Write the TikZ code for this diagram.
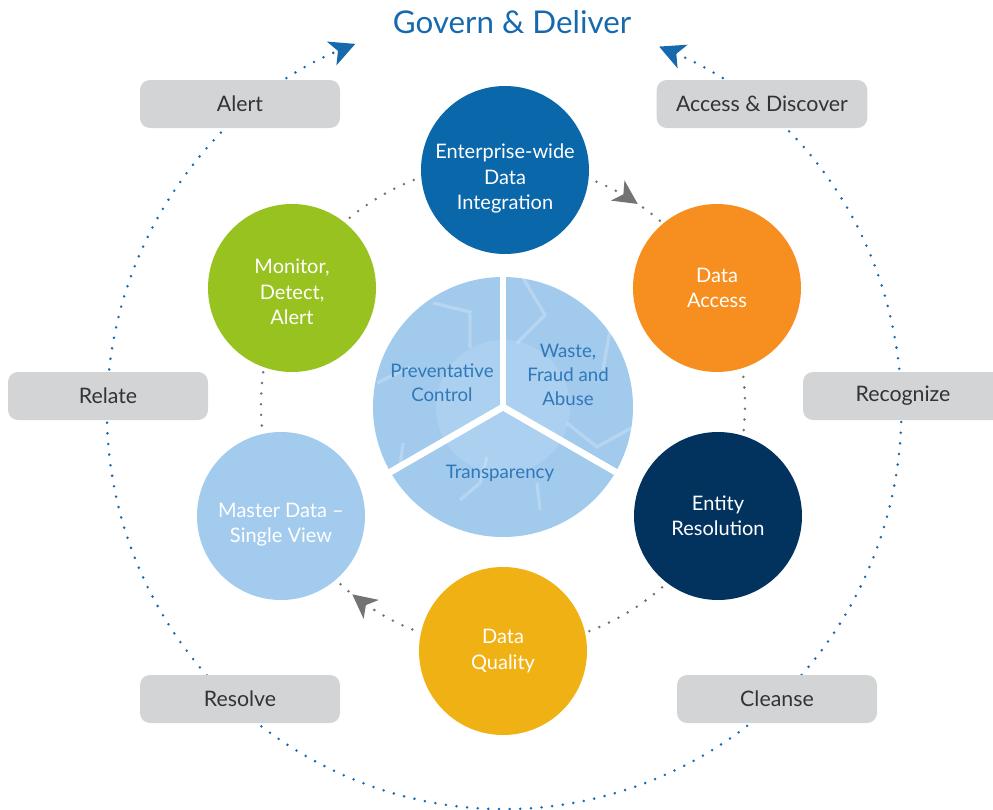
\documentclass[tikz,border=0pt]{standalone}
\usepackage{fontspec}
\setmainfont{Lato}
\usetikzlibrary{arrows.meta,decorations.markings}
\definecolor{govblue}{HTML}{1769AE}
\definecolor{dotgray}{HTML}{737373}
\definecolor{boxgray}{HTML}{D3D4D6}
\definecolor{boxtext}{HTML}{333333}
\definecolor{integrationblue}{HTML}{0A67AA}
\definecolor{accessorange}{HTML}{F68F1F}
\definecolor{resolutionnavy}{HTML}{02335F}
\definecolor{qualityyellow}{HTML}{F0B114}
\definecolor{masterblue}{HTML}{A3CBED}
\definecolor{monitorgreen}{HTML}{98C21F}
\definecolor{pieblue}{HTML}{A2CAEC}
\definecolor{pielight}{HTML}{ACD0EF}
\definecolor{pietext}{HTML}{2F78BA}
\tikzset{
  bluedots/.style={govblue, line width=2.1pt, line cap=round, dash pattern=on 0pt off 8pt},
  graydots/.style={dotgray, line width=2.1pt, line cap=round, dash pattern=on 0pt off 8pt},
  stagebox/.style={fill=boxgray, rounded corners=7.5pt, minimum width=150pt, minimum height=36pt,
    text=boxtext, font=\fontsize{16}{18}\selectfont},
  hub/.style={circle, inner sep=0pt, minimum size=126pt, text=white, align=center,
    font=\fontsize{15}{19}\selectfont},
  pielabel/.style={text=pietext, align=center, font=\fontsize{14}{18}\selectfont},
  bigtip/.style={Stealth[length=19pt,width=19pt,inset=5pt]},
}
\begin{document}
\begin{tikzpicture}[x=0.75pt,y=0.75pt]
\useasboundingbox (0,0) rectangle (993,-810);
%Outer ring
\coordinate (ring) at (504,-412);
\draw[bluedots, {Stealth[length=19pt,width=19pt,inset=5pt]}-{Stealth[length=19pt,width=19pt,inset=5pt]}]
  (ring) ++(67:397) arc[start angle=67, end angle=-248, radius=397];
% Text Node
\node[text=govblue, font=\fontsize{23.5}{26}\selectfont] (title) at (512,-22) {Govern \& Deliver};
%Stage boxes
\node[stagebox] (alert) at (240,-104) {Alert};
\node[stagebox, minimum width=158pt] (discover) at (762,-104) {Access \& Discover};
\node[stagebox] (relate) at (108,-396) {Relate};
\node[stagebox] (recognize) at (903,-396) {Recognize};
\node[stagebox] (resolve) at (240,-699) {Resolve};
\node[stagebox] (cleanse) at (777,-699) {Cleanse};
%Inner ring
\coordinate (hubring) at (503,-405);
\draw[graydots, postaction={decorate}, decoration={markings,
    mark=at position 0.094 with {\arrow{Stealth[length=18pt,width=18pt,inset=5pt]}},
    mark=at position 0.607 with {\arrow{Stealth[length=18pt,width=18pt,inset=5pt]}}}]
  (hubring) ++(90:242) arc[start angle=90, end angle=-270, radius=242];
%Shape: Circles
\node[hub, fill=integrationblue] (integration) at (505,-170) {\rule{0pt}{24pt}Enterprise-wide\\Data\\Integration};
\node[hub, fill=accessorange] (access) at (717,-288) {Data\\Access};
\node[hub, fill=resolutionnavy] (resolution) at (718,-516) {Entity\\Resolution};
\node[hub, fill=qualityyellow] (quality) at (503,-651) {Data\\Quality};
\node[hub, fill=masterblue] (master) at (281,-516) {\rule{0pt}{24pt}Master Data --\\Single View};
\node[hub, fill=monitorgreen] (monitor) at (292,-288) {\rule{0pt}{17pt}Monitor,\\Detect,\\Alert};
%Shape: Pie
\node[circle, fill=pieblue, inner sep=0pt, minimum size=195pt] (pie) at (503,-407) {};
\fill[pielight] (pie.center) circle[radius=67];
\begin{scope}
  \clip (pie.center) circle[radius=130];
  \draw[white, opacity=0.22, line width=2.5pt]
    (433,-303) -- (470,-312) -- (470,-348)
    (523,-278) -- (545,-315) -- (517,-343)
    (610,-330) -- (603,-370)
    (567,-423) -- (597,-447) -- (633,-427)
    (403,-443) -- (400,-467)
    (460,-500) -- (480,-483) -- (487,-457)
    (377,-383) -- (410,-367)
    (537,-483) -- (540,-510);
\end{scope}
\draw[white, line width=5pt] (pie.center) -- (pie.north);
\draw[white, line width=5pt] (pie.center) -- (pie.210);
\draw[white, line width=5pt] (pie.center) -- (pie.330);
% Text Node
\node[pielabel] (prevent) at (442,-383) {Preventative\\Control};
\node[pielabel] (waste) at (568,-375) {Waste,\\Fraud and\\Abuse};
\node[pielabel] (transparency) at (500,-473) {Transparency};
\end{tikzpicture}
\end{document}
